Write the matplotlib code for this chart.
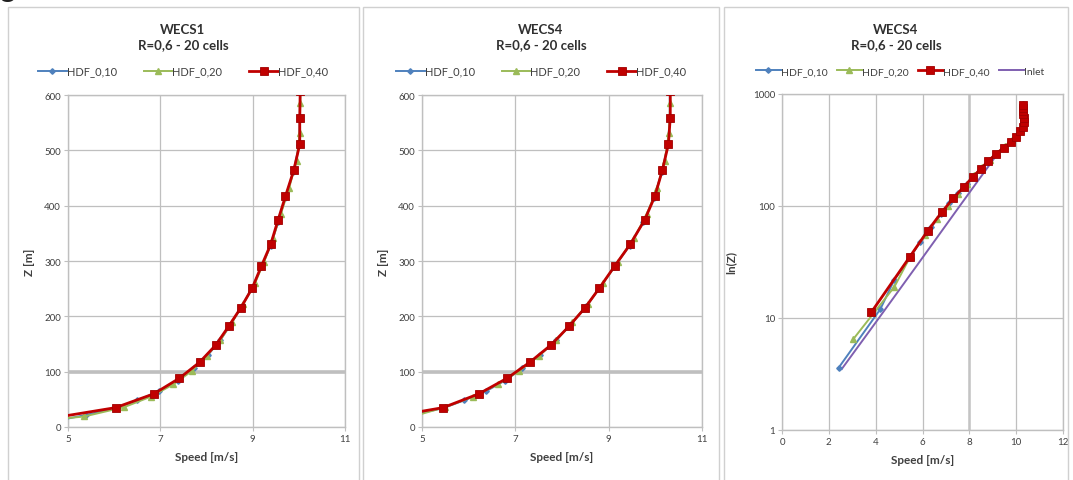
import matplotlib
matplotlib.use("Agg")
import matplotlib.pyplot as plt
from matplotlib.patches import Rectangle
from matplotlib.ticker import FixedLocator, NullLocator

plt.rcParams['font.family'] = ['Lato', 'DejaVu Sans']

# ---- cell heights [m] of each mesh (first cell height HDF) ----
z_hdf010 = [3.6, 12, 22, 34, 48, 65, 84, 106, 130, 157, 186, 218, 252, 289,
            328, 370, 414, 461, 510, 560, 610, 660, 710, 760, 810]
z_hdf020 = [6.5, 19, 36, 55, 77, 101, 128, 157, 189, 223, 260, 299, 341, 385,
            432, 481, 532, 585, 640, 700, 760, 810]
z_hdf040 = [11.3, 35, 60, 88, 117, 148, 182, 215, 251, 291, 330, 374, 417,
            464, 511, 559, 608, 657, 706, 755, 805]

# ---- WECS1 speed profiles [m/s] ----
wecs1_hdf010 = [2.90, 4.80, 5.40, 6.02, 6.50, 6.98, 7.38, 7.72, 8.03, 8.30,
                8.53, 8.76, 8.99, 9.19, 9.39, 9.55, 9.71, 9.88, 10.01, 10.02,
                10.03, 10.03, 10.03, 10.03, 10.03]
wecs1_hdf020 = [3.80, 5.35, 6.22, 6.80, 7.28, 7.68, 8.00, 8.30, 8.55, 8.80,
                9.05, 9.25, 9.44, 9.61, 9.79, 9.95, 10.02, 10.03, 10.03,
                10.03, 10.03, 10.03]
wecs1_hdf040 = [4.30, 6.03, 6.86, 7.41, 7.85, 8.20, 8.48, 8.74, 8.99, 9.19,
                9.39, 9.55, 9.71, 9.89, 10.02, 10.02, 10.03, 10.03, 10.03,
                10.03, 10.03]

# ---- WECS4 speed profiles [m/s] ----
wecs4_hdf010 = [2.42, 4.20, 4.80, 5.45, 5.90, 6.38, 6.78, 7.15, 7.52, 7.88,
                8.19, 8.52, 8.81, 9.12, 9.45, 9.74, 9.97, 10.14, 10.27, 10.31,
                10.31, 10.30, 10.30, 10.29, 10.29]
wecs4_hdf020 = [3.05, 4.80, 5.50, 6.10, 6.62, 7.08, 7.50, 7.88, 8.22, 8.56,
                8.88, 9.20, 9.54, 9.82, 10.04, 10.20, 10.29, 10.32, 10.31,
                10.30, 10.29, 10.29]
wecs4_hdf040 = [3.82, 5.45, 6.22, 6.82, 7.31, 7.76, 8.15, 8.49, 8.80, 9.13,
                9.46, 9.77, 9.99, 10.15, 10.28, 10.32, 10.32, 10.31, 10.31,
                10.30, 10.30]

# ---- inlet log-law profile ----
z_inlet = [3.5, 10, 30, 100, 300]
inlet_speed = [2.55, 4.14, 5.79, 7.59, 9.24]

series_labels = ['HDF_0,10', 'HDF_0,20', 'HDF_0,40', 'Inlet']
titles = ['WECS1\nR=0,6 - 20 cells', 'WECS4\nR=0,6 - 20 cells',
          'WECS4\nR=0,6 - 20 cells']

BLUE = '#4F81BD'
GREEN = '#9BBB59'
RED = '#C00000'
PURPLE = '#7F5FB0'
GRID = '#BFBFBF'
TXT = '#404040'

W, H = 1073, 481
fig = plt.figure(figsize=(W / 100, H / 100), dpi=100)


def fx(px):
    return px / W


def fy(py):
    return (H - py) / H


# chart-area frames
for x0, x1 in [(8, 359), (363, 719), (724, 1068)]:
    fig.add_artist(Rectangle((fx(x0), fy(482)), fx(x1 - x0), (482 - 8) / H,
                             transform=fig.transFigure, fill=False,
                             edgecolor='#D0D0D0', linewidth=1.0))


def style_axes(ax):
    for s in ax.spines.values():
        s.set_color(GRID)
        s.set_linewidth(1.0)
    ax.tick_params(axis='both', labelsize=7, colors=TXT, length=3,
                   width=0.8, color=GRID, pad=2)
    ax.grid(True, color=GRID, linewidth=0.9)
    ax.set_axisbelow(True)


def draw_profiles(ax, s010, s020, s040):
    ax.plot(s010, z_hdf010, color=BLUE, lw=1.4, marker='D', ms=2.8,
            mfc=BLUE, mec=BLUE, label=series_labels[0], zorder=3)
    ax.plot(s020, z_hdf020, color=GREEN, lw=1.4, marker='^', ms=3.8,
            mfc=GREEN, mec=GREEN, label=series_labels[1], zorder=4)
    ax.plot(s040, z_hdf040, color=RED, lw=2.0, marker='s', ms=6.0,
            mfc=RED, mec='#A00000', mew=0.6, label=series_labels[2], zorder=5)


def title_text(title, cx):
    fig.text(fx(cx), fy(38), title, ha='center', va='center', fontsize=9.5,
             fontweight='bold', color='#303030', linespacing=1.3)


def axis_labels(ax, ylabel, ypad):
    ax.set_xlabel('Speed [m/s]', fontsize=8.5, fontweight='bold', color=TXT,
                  labelpad=6)
    ax.set_ylabel(ylabel, fontsize=8.5, fontweight='bold', color=TXT,
                  labelpad=ypad)


# ---- panels 1 and 2: linear height axis ----
lin_panels = [
    ((68, 345), (wecs1_hdf010, wecs1_hdf020, wecs1_hdf040), titles[0], 183),
    ((422, 702), (wecs4_hdf010, wecs4_hdf020, wecs4_hdf040), titles[1], 541),
]
for (l, r), data, title, cx in lin_panels:
    ax = fig.add_axes([fx(l), fy(428), fx(r - l), (428 - 96) / H])
    style_axes(ax)
    draw_profiles(ax, *data)
    ax.axhline(100, color=GRID, lw=2.6, zorder=1)
    ax.set_xlim(5, 11)
    ax.set_ylim(0, 600)
    ax.set_xticks([5, 7, 9, 11])
    ax.set_yticks(range(0, 601, 100))
    axis_labels(ax, 'Z [m]', 7)
    title_text(title, cx)
    handles, labels = ax.get_legend_handles_labels()
    fig.legend(handles, labels, loc='center', bbox_to_anchor=(fx(cx), fy(72)),
               ncol=3, frameon=False, fontsize=8, labelcolor=TXT,
               handletextpad=0.0, borderaxespad=0, handlelength=2.6,
               columnspacing=2.4)

# ---- panel 3: logarithmic height axis ----
ax = fig.add_axes([fx(782), fy(431), fx(1063 - 782), (431 - 95) / H])
style_axes(ax)
ax.set_yscale('log')
ax.plot(inlet_speed, z_inlet, color=PURPLE, lw=1.4, label=series_labels[3],
        zorder=2)
draw_profiles(ax, wecs4_hdf010, wecs4_hdf020, wecs4_hdf040)
ax.axvline(8, color='#C4C4C4', lw=1.8, zorder=1)
ax.set_xlim(0, 12)
ax.set_ylim(1, 1000)
ax.set_xticks(range(0, 13, 2))
ax.yaxis.set_major_locator(FixedLocator([1, 10, 100, 1000]))
ax.yaxis.set_minor_locator(NullLocator())
ax.set_yticklabels(['1', '10', '100', '1000'])
axis_labels(ax, 'ln(Z)', 12)
title_text(titles[2], 896)
h, lb = ax.get_legend_handles_labels()
order = [1, 2, 3, 0]
fig.legend([h[i] for i in order], [lb[i] for i in order], loc='center',
           bbox_to_anchor=(fx(900), fy(72)), ncol=4, frameon=False,
           fontsize=7.5, labelcolor=TXT, handletextpad=0.0, borderaxespad=0,
           handlelength=2.4, columnspacing=0.9)

# caption fragment at the very top edge
fig.text(0.0, fy(-3), 'g', fontsize=22, color='#202020', ha='left',
         va='baseline')

fig.savefig('out.png', dpi=100)
